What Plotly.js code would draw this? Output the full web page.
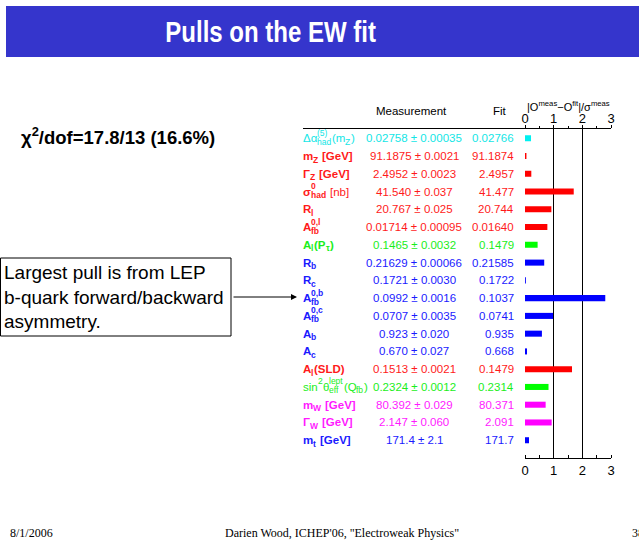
<!DOCTYPE html>
<html>
<head>
<meta charset="utf-8">
<script src="https://cdn.plot.ly/plotly-3.0.1.min.js"></script>
<style>html,body{margin:0;padding:0;background:#fff;}#chart{width:639px;height:541px;}
.narrow-title{transform-box:fill-box;transform-origin:center;transform:scaleX(0.8);}</style>
</head>
<body>
<div id="chart"></div>
<script>
// ---- data ----
var categories = [
  "Δα<sup>(5)</sup><sub>had</sub>(m<sub>Z</sub>)",
  "<b>m<sub>Z</sub> [GeV]</b>",
  "<b>Γ<sub>Z</sub> [GeV]</b>",
  "<b>σ<sup>0</sup><sub>had</sub></b> [nb]",
  "<b>R<sub>l</sub></b>",
  "<b>A<sup>0,l</sup><sub>fb</sub></b>",
  "<b>A<sub>l</sub>(P<sub>τ</sub>)</b>",
  "<b>R<sub>b</sub></b>",
  "<b>R<sub>c</sub></b>",
  "<b>A<sup>0,b</sup><sub>fb</sub></b>",
  "<b>A<sup>0,c</sup><sub>fb</sub></b>",
  "<b>A<sub>b</sub></b>",
  "<b>A<sub>c</sub></b>",
  "<b>A<sub>l</sub>(SLD)</b>",
  "sin<sup>2</sup>θ<sup>lept</sup><sub>eff</sub>(Q<sub>fb</sub>)",
  "<b>m<sub>W</sub> [GeV]</b>",
  "<b>Γ<sub>W</sub> [GeV]</b>",
  "<b>m<sub>t</sub> [GeV]</b>"
];
var measurements = [
  "0.02758 ± 0.00035", "91.1875 ± 0.0021", "2.4952 ± 0.0023", "41.540 ± 0.037",
  "20.767 ± 0.025", "0.01714 ± 0.00095", "0.1465 ± 0.0032", "0.21629 ± 0.00066",
  "0.1721 ± 0.0030", "0.0992 ± 0.0016", "0.0707 ± 0.0035", "0.923 ± 0.020",
  "0.670 ± 0.027", "0.1513 ± 0.0021", "0.2324 ± 0.0012", "80.392 ± 0.029",
  "2.147 ± 0.060", "171.4 ± 2.1"
];
var fitValues = [
  "0.02766", "91.1874", "2.4957", "41.477", "20.744", "0.01640", "0.1479", "0.21585",
  "0.1722", "0.1037", "0.0741", "0.935", "0.668", "0.1479", "0.2314", "80.371",
  "2.091", "171.7"
];
var pulls = [0.21, 0.05, 0.22, 1.70, 0.92, 0.78, 0.44, 0.67, 0.03, 2.80, 0.98, 0.59, 0.07, 1.64, 0.82, 0.72, 0.93, 0.14];
var groups = ["cyan","red","red","red","red","red","green","blue","blue","blue","blue","blue","blue","red","green","magenta","magenta","blue"];
var tickValues = [0, 1, 2, 3];

// ---- styles ----
var palette = {cyan:"#00f0f0", red:"#ff0000", green:"#00ff00", blue:"#0000ff", magenta:"#ff00ff"};
var textPalette = {cyan:"#12e6e6", red:"#ff1a1a", green:"#1aee1a", blue:"#1a1aff", magenta:"#ff1aff"};
var W = 639, H = 541;
function px(x){ return x / W; }
function py(y){ return 1 - y / H; }
var SANS = "Liberation Sans, Arial, sans-serif";
var SERIF = "Liberation Serif, Times New Roman, serif";
var BASE = 11.5, SMALL = 8.5;

// measure text widths with canvas
var ctx = document.createElement("canvas").getContext("2d");
function tw(t, size, bold){
  ctx.font = (bold ? "bold " : "") + size + "px 'Liberation Sans', Arial, sans-serif";
  return ctx.measureText(t).width;
}
// split a rich label into segments, stacking sup/sub pairs
function segments(s){
  var re = /<(\/?)(b|sup|sub)>|([^<]+)/g, m, bold = false, mode = "base", out = [];
  while ((m = re.exec(s)) !== null){
    if (m[2]){
      if (m[2] === "b") bold = !m[1];
      else mode = m[1] ? "base" : m[2];
    } else out.push({t:m[3], bold:bold, mode:mode});
  }
  return out;
}
var annotations = [];
function addLabel(label, rowIdx, x0, color){
  var segs = segments(label), x = x0, i = 0;
  while (i < segs.length){
    var s = segs[i];
    var grp = [s];
    if (s.mode !== "base" && segs[i+1] && segs[i+1].mode !== "base" && segs[i+1].mode !== s.mode){
      grp.push(segs[i+1]);
    }
    var adv = 0;
    grp.forEach(function(g){
      var size = g.mode === "base" ? BASE : SMALL;
      var txt = g.t, lead = 0;
      var sp = tw(" ", size, g.bold);
      while (txt.charAt(0) === " "){ lead += sp; txt = txt.slice(1); }
      var trail = 0;
      while (txt.length && txt.charAt(txt.length-1) === " "){ trail += sp; txt = txt.slice(0, -1); }
      var shift = g.mode === "sup" ? 5.5 : (g.mode === "sub" ? -3.5 : 0);
      if (txt.length){
        annotations.push({xref:"paper", yref:"y", x:px(x + lead), y:rowIdx, xanchor:"left", yanchor:"middle",
          yshift:shift, text:g.bold ? "<b>" + txt + "</b>" : txt, showarrow:false, borderpad:0,
          font:{family:SANS, size:size, color:color}});
      }
      adv = Math.max(adv, lead + tw(txt, size, g.bold) + trail + (g.mode !== "base" ? 0.5 : 0));
    });
    x += adv;
    i += grp.length;
  }
}

categories.forEach(function(c, i){
  var col = textPalette[groups[i]];
  addLabel(c, i, 302, col);
  annotations.push({xref:"paper", yref:"y", x:px(414), y:i, xanchor:"center", yanchor:"middle",
    text:measurements[i], showarrow:false, font:{family:SANS, size:11.5, color:col}});
  annotations.push({xref:"paper", yref:"y", x:px(516), y:i, xanchor:"right", yanchor:"middle",
    text:fitValues[i], showarrow:false, font:{family:SANS, size:11.5, color:col}});
});
annotations.push(
  {xref:"paper", yref:"paper", x:px(411), y:py(111), xanchor:"center", yanchor:"middle",
   text:"Measurement", showarrow:false, font:{family:SANS, size:11.5, color:"#000"}},
  {xref:"paper", yref:"paper", x:px(500), y:py(111), xanchor:"center", yanchor:"middle",
   text:"Fit", showarrow:false, font:{family:SANS, size:11.5, color:"#000"}},
  {xref:"paper", yref:"paper", x:px(568), y:py(106), xanchor:"center", yanchor:"middle",
   text:"|O<sup>meas</sup>−O<sup>fit</sup>|/σ<sup>meas</sup>", showarrow:false, font:{family:SANS, size:11, color:"#000"}},
  {xref:"paper", yref:"paper", x:px(270), y:py(32), xanchor:"center", yanchor:"middle",
   text:"<b>Pulls on the EW fit</b>", showarrow:false,
   font:{family:SANS, size:30, color:"#fff"}},
  {xref:"paper", yref:"paper", x:px(19), y:py(136), xanchor:"left", yanchor:"middle",
   text:"<b>χ<sup>2</sup>/dof=17.8/13 (16.6%)</b>", showarrow:false, font:{family:SANS, size:18.5, color:"#000"}},
  {xref:"paper", yref:"paper", x:px(2), y:py(297), xanchor:"left", yanchor:"middle", align:"left",
   text:"Largest pull is from LEP<br>b-quark forward/backward<br>asymmetry.", showarrow:false,
   font:{family:SANS, size:19, color:"#000"}},
  {xref:"paper", yref:"paper", x:px(297), y:py(297), ax:px(232), ay:py(297), axref:"paper", ayref:"paper",
   text:"", showarrow:true, arrowhead:2, arrowsize:1.2, arrowwidth:1, arrowcolor:"#000"},
  {xref:"paper", yref:"paper", x:px(8), y:py(533), xanchor:"left", yanchor:"middle",
   text:"8/1/2006", showarrow:false, font:{family:SERIF, size:12, color:"#000"}},
  {xref:"paper", yref:"paper", x:px(342), y:py(533), xanchor:"center", yanchor:"middle",
   text:"Darien Wood, ICHEP'06, \"Electroweak Physics\"", showarrow:false, font:{family:SERIF, size:12, color:"#000"}},
  {xref:"paper", yref:"paper", x:px(630), y:py(533), xanchor:"left", yanchor:"middle",
   text:"38", showarrow:false, font:{family:SERIF, size:12, color:"#000"}}
);
var titleIndex = annotations.length - 7;

var shapes = [
  {type:"rect", xref:"paper", yref:"paper", x0:px(6), x1:px(660), y0:py(57), y1:py(6),
   fillcolor:"#3535cc", line:{width:0}, layer:"below"},
  {type:"line", xref:"paper", yref:"paper", x0:px(303), x1:px(525), y0:py(128.5), y1:py(128.5),
   line:{color:"#000", width:1}},
  {type:"rect", xref:"paper", yref:"paper", x0:px(0.5), x1:px(231), y0:py(336), y1:py(258),
   line:{color:"#000", width:1}, fillcolor:"rgba(0,0,0,0)"}
];

var traces = [
  {type:"bar", orientation:"h", x:pulls, y:categories, width:0.34,
   marker:{color:groups.map(function(g){return palette[g];}), line:{width:0}}, hoverinfo:"skip"},
  {type:"scatter", mode:"markers", x:pulls, y:categories, xaxis:"x2", yaxis:"y",
   marker:{opacity:0}, hoverinfo:"skip", showlegend:false}
];

var layout = {
  width:W, height:H, margin:{l:0, r:0, t:0, b:0},
  paper_bgcolor:"#fff", plot_bgcolor:"rgba(0,0,0,0)", showlegend:false,
  font:{family:SANS},
  xaxis:{domain:[px(525), px(611)], range:[0,3], tickvals:tickValues, ticktext:tickValues.map(String),
    showgrid:true, gridcolor:"#000", gridwidth:1, zeroline:false,
    showline:true, linecolor:"#000", linewidth:1, mirror:true, ticks:"",
    minor:{dtick:0.5, ticks:"inside", ticklen:3, tickcolor:"#000", showgrid:false},
    tickfont:{family:SANS, size:13, color:"#000"}, fixedrange:true},
  xaxis2:{overlaying:"x", side:"top", anchor:"y", range:[0,3], tickvals:tickValues, ticktext:tickValues.map(String),
    showgrid:false, zeroline:false, showline:false, ticks:"outside", ticklen:3, tickcolor:"#000",
    minor:{dtick:0.5, ticks:"outside", ticklen:2, tickcolor:"#000", showgrid:false},
    ticklabelstandoff:-4,
    tickfont:{family:SANS, size:13, color:"#000"}, fixedrange:true},
  yaxis:{domain:[py(458), py(128.5)], type:"category", range:[18.0, -0.55], autorange:false,
    showticklabels:false, showgrid:false, zeroline:false, ticks:"", showline:false, fixedrange:true},
  annotations:annotations, shapes:shapes
};

Plotly.newPlot("chart", traces, layout, {staticPlot:true, displayModeBar:false}).then(function(gd){
  var g = gd.querySelector('.annotation[data-index="' + titleIndex + '"] text');
  if (g) g.classList.add("narrow-title");
});
</script>
</body>
</html>
